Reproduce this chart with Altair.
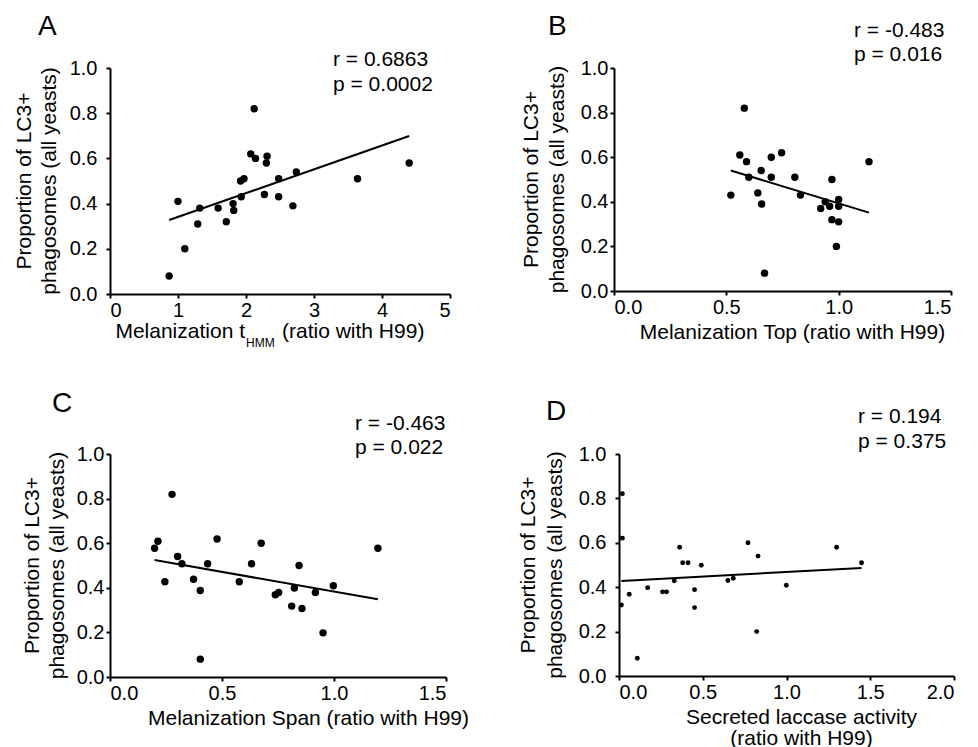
import altair as alt
import pandas as pd

FONT = "Liberation Sans"

# ---- data ----
a_x = [0.87, 1.00, 1.10, 1.29, 1.32, 1.59, 1.71, 1.81, 1.82, 1.92, 1.97, 1.93,
       2.12, 2.07, 2.14, 2.31, 2.30, 2.27, 2.48, 2.48, 2.74, 2.69, 3.64, 4.40]
a_y = [0.08, 0.41, 0.20, 0.31, 0.38, 0.38, 0.32, 0.40, 0.37, 0.50, 0.51, 0.43,
       0.82, 0.62, 0.60, 0.61, 0.58, 0.44, 0.51, 0.43, 0.54, 0.39, 0.51, 0.58]

b_x = [0.52, 0.56, 0.58, 0.59, 0.60, 0.655, 0.64, 0.657, 0.67, 0.70, 0.70, 0.746,
       0.805, 0.83, 0.92, 0.94, 0.96, 0.97, 0.97, 1.00, 1.00, 1.00, 0.99, 1.135]
b_y = [0.43, 0.61, 0.82, 0.58, 0.51, 0.54, 0.44, 0.39, 0.08, 0.60, 0.51, 0.62,
       0.51, 0.43, 0.37, 0.40, 0.38, 0.50, 0.32, 0.41, 0.38, 0.31, 0.20, 0.58]

c_x = [0.199, 0.214, 0.277, 0.245, 0.302, 0.321, 0.373, 0.403, 0.403, 0.436, 0.478, 0.577,
       0.632, 0.675, 0.738, 0.753, 0.823, 0.844, 0.811, 0.857, 0.917, 0.951, 0.997, 1.196]
c_y = [0.577, 0.609, 0.819, 0.427, 0.540, 0.508, 0.438, 0.388, 0.08, 0.508, 0.619, 0.427,
       0.508, 0.600, 0.369, 0.379, 0.399, 0.500, 0.318, 0.307, 0.379, 0.198, 0.409, 0.577]

d_x = [0.014, 0.02, 0.02, 0.061, 0.109, 0.171, 0.26, 0.284, 0.33, 0.362, 0.38, 0.412,
       0.451, 0.451, 0.491, 0.65, 0.682, 0.77, 0.83, 0.822, 0.999, 1.299, 1.448]
d_y = [0.32, 0.821, 0.621, 0.368, 0.08, 0.398, 0.379, 0.379, 0.429, 0.58, 0.51, 0.51,
       0.389, 0.308, 0.499, 0.43, 0.44, 0.60, 0.54, 0.20, 0.409, 0.58, 0.51]

y_ticks = [0.0, 0.2, 0.4, 0.6, 0.8, 1.0]
a_ticks = [0, 1, 2, 3, 4, 5]
bc_ticks = [0.0, 0.5, 1.0, 1.5]
d_ticks = [0.0, 0.5, 1.0, 1.5, 2.0]

y_title = ["Proportion of LC3+", "phagosomes (all yeasts)"]
letters = ["A", "B", "C", "D"]
stats = [["r = 0.6863", "p = 0.0002"], ["r = -0.483", "p = 0.016"],
         ["r = -0.463", "p = 0.022"], ["r = 0.194", "p = 0.375"]]
a_title_parts = ["Melanization t", "HMM", "(ratio with H99)"]
b_title = "Melanization Top (ratio with H99)"
c_title = "Melanization Span (ratio with H99)"
d_title = ["Secreted laccase activity", "(ratio with H99)"]


def txt(s, x, y, size=21, align="left", baseline="middle", opacity=1, angle=0):
    return alt.Chart(pd.DataFrame({"t": [s]})).mark_text(
        font=FONT, fontSize=size, align=align, baseline=baseline,
        color="black", opacity=opacity, angle=angle,
    ).encode(text="t:N", x=alt.value(x), y=alt.value(y))


def panel(xs, ys, xdom, xvals, xfmt, w, h, xtitle, xtitle_x, ytx, ylabpad,
          letter, lpos, stat, spos, dot, extra=None):
    df = pd.DataFrame({"x": xs, "y": ys})
    xaxis_kw = dict(values=xvals, format=xfmt, labelPadding=2)
    if xtitle is None:
        xaxis_kw["title"] = None
    else:
        xaxis_kw["title"] = xtitle
        xaxis_kw["titleX"] = xtitle_x
        xaxis_kw["titleLineHeight"] = 21
    xenc = alt.X("x:Q", scale=alt.Scale(domain=xdom, nice=False, zero=False),
                 axis=alt.Axis(**xaxis_kw))
    yenc = alt.Y("y:Q", scale=alt.Scale(domain=[0, 1], nice=False),
                 axis=alt.Axis(values=y_ticks, format=".1f", title=None,
                               labelPadding=ylabpad))
    base = alt.Chart(df)
    pts = base.mark_circle(size=dot, color="black", opacity=1).encode(x=xenc, y=yenc)
    line = base.transform_regression("x", "y").mark_line(
        color="black", strokeWidth=2).encode(x="x:Q", y="y:Q")
    layers = [pts, line,
              txt(y_title[0], ytx[0], h / 2, angle=270, align="center"),
              txt(y_title[1], ytx[1], h / 2, angle=270, align="center"),
              txt(letter, lpos[0], lpos[1], size=28, baseline="alphabetic"),
              txt(stat[0], spos[0], spos[1]),
              txt(stat[1], spos[0], spos[2])]
    if extra:
        layers += extra
    return alt.layer(*layers).properties(width=w, height=h)


A = panel(a_x, a_y, [0, 5], a_ticks, "d", 340, 226, None, None, (-85, -60), 9,
          letters[0], (-72, -33), stats[0], (223, -8, 17), 55,
          extra=[txt(a_title_parts[0], 135, 270, baseline="alphabetic", align="right"),
                 txt(a_title_parts[1], 136, 279, size=12, baseline="alphabetic"),
                 txt(a_title_parts[2], 172, 270, baseline="alphabetic")])
B = panel(b_x, b_y, [0, 1.5], bc_ticks, ".1f", 337, 223, b_title, 178, (-82, -56), 2,
          letters[1], (-66, -33), stats[1], (240, -37, -13), 55)
C = panel(c_x, c_y, [0, 1.5], bc_ticks, ".1f", 336, 223, c_title, 198, (-77, -52), 2,
          letters[2], (-58, -42), stats[2], (245, -30, -6), 55)
D = panel(d_x, d_y, [0, 2], d_ticks, ".1f", 335, 222, d_title, 182, (-90, -63), 9,
          letters[3], (-73, -34), stats[3], (239, -37, -12), 24)

row1 = alt.hconcat(A, B, spacing=70)
row2 = alt.hconcat(C, D, spacing=49)
chart = alt.vconcat(row1, row2, spacing=41).configure_axis(
    domainColor="black", domainWidth=2, tickColor="black", tickWidth=2, tickSize=4,
    labelColor="black", titleColor="black", labelFontSize=20, titleFontSize=21,
    titleFontWeight="normal", labelFont=FONT, titleFont=FONT, grid=False,
).configure_view(stroke=None).properties(
    background="white",
    padding={"left": 6, "top": 5, "right": 5, "bottom": 5},
)

chart.save("out.html", embed_options={"renderer": "svg", "actions": False})
